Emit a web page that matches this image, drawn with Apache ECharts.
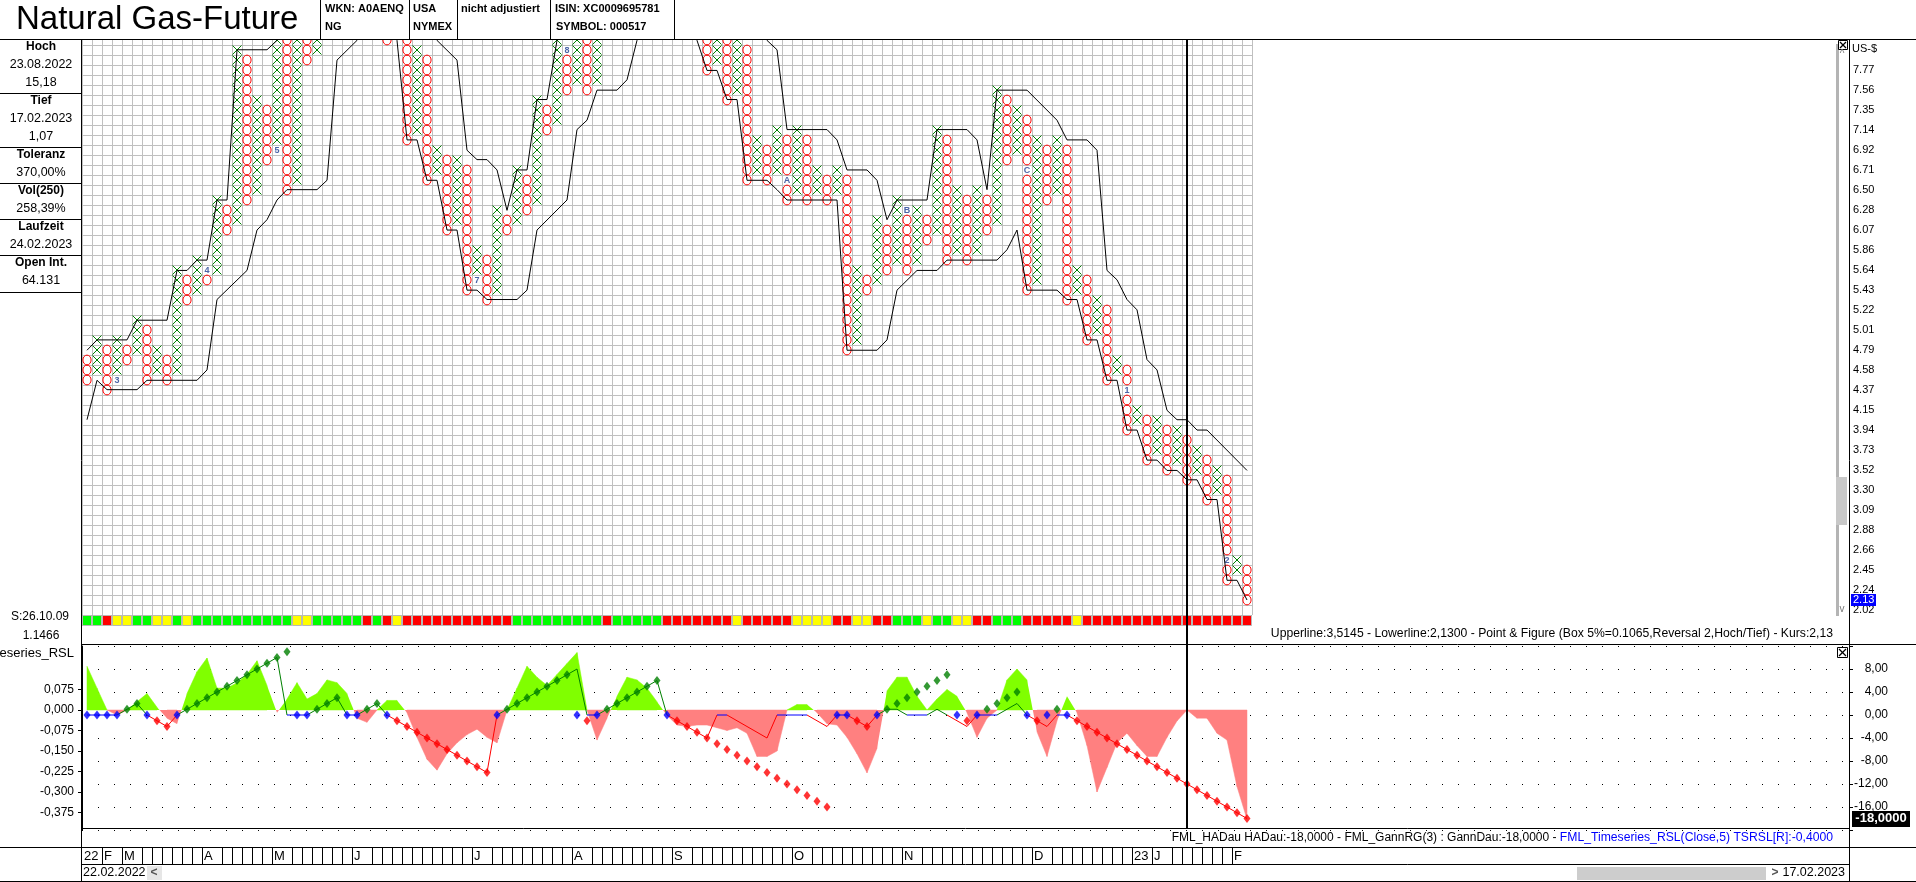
<!DOCTYPE html>
<html><head><meta charset="utf-8">
<script src="https://cdn.jsdelivr.net/npm/echarts@6/dist/echarts.min.js"></script>
<style>html,body{margin:0;padding:0;background:#fff;}#c{width:1916px;height:882px;}</style>
</head><body><div id="c"></div>
<script>
// ================= DATA =================
const BOX = 0.1065;            // box size (5%)
const LAST_PRICE = 2.13;       // Kurs
const LEVEL0 = LAST_PRICE + 53 * BOX; // price of the 7.77 row
const priceTicks = [7.77,7.56,7.35,7.14,6.92,6.71,6.50,6.28,6.07,5.86,5.64,5.43,5.22,5.01,4.79,4.58,4.37,4.15,3.94,3.73,3.52,3.30,3.09,2.88,2.66,2.45,2.24,2.02];

// Point & Figure columns (types alternate O / X, first column is O)
const colTypes = ('OX'.repeat(58) + 'O').split('');
const colHighs = [4.69,4.90,4.79,4.90,4.79,5.11,5.01,4.79,4.69,5.64,
 5.54,5.75,5.64,6.39,6.28,7.99,7.88,7.46,7.35,8.41,
 8.31,8.63,8.52,9.05,8.95,9.69,9.59,9.90,9.80,9.37,
 9.27,9.05,8.95,7.99,7.88,6.92,6.82,6.82,6.71,5.86,
 5.75,6.28,6.18,6.71,6.60,7.46,7.35,8.09,7.99,8.73,
 8.63,9.27,9.16,9.90,9.80,10.12,10.01,9.80,9.69,9.48,
 9.37,9.05,8.95,8.41,8.31,8.09,7.99,7.03,6.92,7.14,
 7.03,7.14,7.03,6.71,6.60,6.71,6.60,5.64,5.54,6.18,
 6.07,6.39,6.28,6.28,6.18,7.14,7.03,6.50,6.39,6.50,
 6.39,7.56,7.46,7.35,7.24,7.03,6.92,7.03,6.92,5.64,
 5.54,5.33,5.22,4.69,4.58,4.15,4.05,4.05,3.94,3.94,
 3.83,3.73,3.62,3.51,3.41,2.56,2.45];
const colLows = [4.47,4.58,4.37,4.47,4.69,4.79,4.47,4.58,4.47,4.58,
 5.33,5.43,5.54,5.64,6.07,6.18,6.39,6.50,6.82,6.92,
 6.50,6.60,7.88,7.99,8.20,8.31,8.63,8.73,8.41,8.52,
 8.09,8.20,7.03,7.14,6.60,6.71,6.07,6.18,5.43,5.54,
 5.33,5.43,6.07,6.18,6.28,6.39,7.14,7.24,7.56,7.67,
 7.56,7.67,8.20,8.31,8.63,8.73,8.84,8.95,8.63,8.73,
 8.20,8.31,7.77,7.88,7.46,7.56,6.60,6.71,6.60,6.71,
 6.39,6.50,6.39,6.50,6.39,6.50,4.79,4.90,5.43,5.54,
 5.64,5.75,5.64,5.75,5.96,6.07,5.75,5.86,5.75,5.86,
 6.07,6.18,6.82,6.92,5.43,5.54,6.39,6.50,5.33,5.43,
 4.90,5.01,4.47,4.58,3.94,4.05,3.62,3.73,3.51,3.62,
 3.41,3.51,3.20,3.30,2.34,2.45,2.13];
// month markers inside the P&F columns: [column, price, label]
const monthMarkers = [[3,4.47,'3'],[12,5.64,'4'],[19,6.92,'5'],[39,5.54,'7'],[48,7.99,'8'],
 [70,6.60,'A'],[82,6.28,'B'],[94,6.71,'C'],[104,4.37,'1'],[114,2.56,'2']];
// Upper / lower channel lines: [column, price]
const upperLine = [[0,4.79],[1,4.90],[4,4.90],[5,5.11],[8,5.11],[9,5.64],[10,5.64],[11,5.75],[12,5.75],[13,6.39],[14,6.39],[15,7.99],[18,7.99],[19,8.09],
 [20,8.63],[23,9.05],[25,9.69],[27,9.90],[30,9.90],[33,9.05],[35,8.09],[37,7.88],[38,6.92],[39,6.82],[40,6.82],[41,6.71],[42,6.28],[43,6.71],[44,6.71],
 [45,7.46],[46,7.46],[47,8.09],[48,8.41],[50,8.73],[51,9.27],[53,9.90],[55,10.12],[57,10.12],[60,9.48],[63,8.84],[66,8.41],[68,8.09],[69,7.99],
 [70,7.14],[74,7.14],[75,7.03],[76,6.71],[78,6.71],[79,6.60],[80,6.18],[81,6.39],[84,6.39],[85,7.14],[88,7.14],[89,7.03],[90,6.50],[91,7.56],[94,7.56],
 [97,7.24],[98,7.03],[100,7.03],[101,6.92],[102,5.64],[103,5.54],[104,5.33],[105,5.22],[106,4.69],[107,4.58],[108,4.15],[109,4.05],[110,4.05],
 [111,3.94],[112,3.94],[116,3.51]];
const lowerLine = [[0,4.05],[1,4.47],[2,4.37],[5,4.37],[6,4.47],[11,4.47],[12,4.58],[13,5.33],[16,5.64],[17,6.07],[18,6.18],[19,6.39],[20,6.50],[23,6.50],
 [24,6.60],[25,7.88],[27,8.09],[28,8.41],[29,8.63],[30,8.41],[31,8.09],[32,7.03],[33,7.03],[34,6.60],[35,6.60],[36,6.07],[37,6.07],[38,5.43],[39,5.43],
 [40,5.33],[43,5.33],[44,5.43],[45,6.07],[48,6.39],[49,7.14],[50,7.24],[51,7.56],[53,7.56],[54,7.67],[55,8.09],[56,8.41],[58,8.63],[60,8.31],[61,8.09],
 [62,7.77],[63,7.77],[64,7.46],[65,7.46],[66,6.60],[68,6.60],[69,6.50],[70,6.39],[75,6.39],[76,4.79],[79,4.79],[80,4.90],[81,5.43],[83,5.64],[85,5.64],
 [86,5.75],[91,5.75],[92,5.86],[93,6.07],[94,5.43],[97,5.43],[98,5.33],[99,5.33],[100,4.90],[101,4.90],[102,4.47],[103,4.47],[104,3.94],[105,3.94],
 [106,3.62],[107,3.62],[108,3.51],[109,3.51],[110,3.41],[111,3.41],[112,3.20],[113,3.20],[114,2.34],[115,2.34],[116,2.13]];
// signal strip under the chart, one cell per column (G green, Y yellow, R red)
const stripStates = ('GGRYYGGYYG' + 'Y' + 'GGGGGGGGGG' + 'YY' + 'GGGGG' + 'R' + 'G' + 'R' + 'Y' + 'RRRRRRRRRRR' + 'GGGGGGGGG' +
 'R' + 'GGGGG' + 'RRRRRRR' + 'Y' + 'RRRRR' + 'YYYY' + 'RR' + 'YY' + 'RR' + 'GGG' + 'Y' + 'GG' + 'YY' + 'RR' + 'GGG' + 'RRRRR' + 'Y' +
 'RRRRRRRRRRRRRRRRR').split('');
// lower panel: FML_Timeseries_RSL (left axis)
const tsrsl = [0.16,0.08,0.0,-0.018,0.0,0.03,0.06,0.01,-0.03,-0.05,
 0.06,0.14,0.19,0.08,0.08,0.10,0.13,0.18,0.09,-0.01,
 0.04,0.10,0.04,0.06,0.11,0.10,0.06,-0.03,-0.045,0.0,
 0.035,0.035,-0.01,-0.10,-0.18,-0.22,-0.16,-0.12,-0.09,-0.07,
 -0.10,-0.12,0.0,0.08,0.16,0.12,0.09,0.13,0.17,0.21,
 0.0,-0.11,-0.03,0.05,0.12,0.11,0.08,0.03,-0.02,-0.055,
 -0.06,-0.055,-0.055,-0.065,-0.075,-0.065,-0.085,-0.17,-0.17,-0.15,
 0.0,0.02,0.02,-0.01,-0.05,-0.055,-0.10,-0.16,-0.23,-0.14,
 0.07,0.12,0.12,0.05,0.0,0.04,0.075,0.05,-0.01,-0.10,
 -0.03,0.0,0.11,0.15,0.11,-0.08,-0.17,-0.04,0.05,-0.01,
 -0.13,-0.30,-0.21,-0.12,-0.085,-0.13,-0.17,-0.17,-0.10,-0.04,
 0.0,-0.03,-0.03,-0.085,-0.11,-0.28,-0.40];
// GannDau (diamonds, right axis)
const gannDau = [0,0,0,0,1,2,0,-1,-2,0,
 1,2,3,4,5,6,7,8,9,10,
 11,0,0,1,2,3,0,0,1,2,
 0,-1,-2,-3,-4,-5,-6,-7,-8,-9,
 -10,0,1,2,3,4,5,6,7,0,
 -1,0,1,2,3,4,5,6,0,-1,
 -2,-3,-4,-5,-6,-7,-8,-9,-10,-11,
 -12,-13,-14,-15,-16,0,0,-1,-2,0,
 1,2,3,4,5,6,7,0,-1,0,
 1,2,3,4,0,-1,0,1,0,-1,
 -2,-3,-4,-5,-6,-7,-8,-9,-10,-11,
 -12,-13,-14,-15,-16,-17,-18];
// HADau (thin line, right axis)
const haDau = [0,0,0,0,1,2,0,-1,-2,0,
 1,2,3,4,5,6,7,8,9,10,
 0,0,0,1,2,3,0,0,1,2,
 0,-1,-2,-3,-4,-5,-6,-7,-8,-9,
 -10,0,1,2,3,4,5,6,7,8,
 0,0,1,2,3,4,5,6,0,-1,
 -2,-3,-4,0,0,-1,-2,-3,-4,0,
 0,0,0,-1,-2,0,0,-1,-2,0,
 1,1,0,0,0,1,0,-1,-2,0,
 0,0,1,2,0,-1,-2,0,0,-1,
 -2,-3,-4,-5,-6,-7,-8,-9,-10,-11,
 -12,-13,-14,-15,-16,-17,-18];
const rslTicks = [0.075,0,-0.075,-0.15,-0.225,-0.3,-0.375];
const gannTicks = {min:-20, max:12, step:4};
// time line under the chart: [column, label]
const timelineMonths = [[0,'22'],[2,'F'],[4,'M'],[12,'A'],[19,'M'],[27,'J'],[39,'J'],[49,'A'],[59,'S'],[71,'O'],[82,'N'],[95,'D'],[105,'23'],[107,'J'],[115,'F']];
const cursorCol = 110;
const infoRows = [['Hoch',true],['23.08.2022',false],['15,18',false],['Tief',true],['17.02.2023',false],['1,07',false],
 ['Toleranz',true],['370,00%',false],['Vol(250)',true],['258,39%',false],['Laufzeit',true],['24.02.2023',false],['Open Int.',true],['64.131',false]];

// ================= CHART =================
const FF = '"Liberation Sans", Arial, Helvetica, sans-serif';
const NCOL = colHighs.length;
const GREEN_X = '#008000', RED_O = '#ff0000';
const STRIP_COL = {G:'#00ff00', Y:'#ffff00', R:'#ff0000'};

const markerMap = {};
monthMarkers.forEach(([c,p,t]) => { markerMap[c + '_' + Math.round((LEVEL0 - p) / BOX)] = t; });

function renderPF(params, api) {
  const i = params.dataIndex;
  const nTop = Math.round((LEVEL0 - colHighs[i]) / BOX);
  const nBot = Math.round((LEVEL0 - colLows[i]) / BOX);
  const top = params.coordSys.y;
  const ch = [];
  for (let n = nTop; n <= nBot; n++) {
    const pt = api.coord([i, LEVEL0 - n * BOX]);
    if (pt[1] < top - 6) continue;
    const mk = markerMap[i + '_' + n];
    if (mk) {
      ch.push({type:'text', x: pt[0], y: pt[1] + 0.5, style:{text: mk, fill:'#4a64a8', font:'bold 9px ' + FF,
        align:'center', verticalAlign:'middle', textAlign:'center', textVerticalAlign:'middle'}});
      continue;
    }
    if (colTypes[i] === 'X') {
      ch.push({type:'line', shape:{x1:pt[0]-4.5, y1:pt[1]-4.5, x2:pt[0]+4.5, y2:pt[1]+4.5}, style:{stroke:GREEN_X, lineWidth:1}});
      ch.push({type:'line', shape:{x1:pt[0]+4.5, y1:pt[1]-4.5, x2:pt[0]-4.5, y2:pt[1]+4.5}, style:{stroke:GREEN_X, lineWidth:1}});
    } else {
      ch.push({type:'ellipse', shape:{cx:pt[0], cy:pt[1], rx:4.1, ry:4.9}, style:{fill:'none', stroke:RED_O, lineWidth:1}});
    }
  }
  return {type:'group', children: ch};
}
function renderStrip(params, api) {
  const i = params.dataIndex;
  const a = api.coord([i - 0.5, 1]), b = api.coord([i + 0.5, 0]);
  return {type:'rect', shape:{x:a[0]+0.5, y:a[1]+0.5, width:b[0]-a[0]-1, height:b[1]-a[1]-1},
    style:{fill: STRIP_COL[stripStates[i]], stroke:'#b8b8b8', lineWidth:1}};
}
function renderArea(params, api) {
  const i = params.dataIndex;
  if (i === 0) return {type:'group', children:[]};
  const v0 = tsrsl[i-1], v1 = tsrsl[i];
  const p0 = api.coord([i-1, v0]), p1 = api.coord([i, v1]);
  const z = api.coord([i, 0])[1];
  const col = v => v >= 0 ? '#80ff00' : '#ff8080';
  const ch = [];
  if (v0 * v1 < 0) {
    const t = v0 / (v0 - v1);
    const xc = p0[0] + t * (p1[0] - p0[0]);
    ch.push({type:'polygon', shape:{points:[[p0[0],z],[p0[0],p0[1]],[xc,z]]}, style:{fill:col(v0)}});
    ch.push({type:'polygon', shape:{points:[[xc,z],[p1[0],p1[1]],[p1[0],z]]}, style:{fill:col(v1)}});
  } else {
    const s = (v0 !== 0) ? v0 : v1;
    ch.push({type:'polygon', shape:{points:[[p0[0],z],[p0[0],p0[1]],[p1[0],p1[1]],[p1[0],z]]}, style:{fill:col(s), stroke:col(s), lineWidth:0.5}});
  }
  return {type:'group', children: ch};
}
function renderHA(params, api) {
  const i = params.dataIndex;
  if (i === 0) return {type:'group', children:[]};
  const v0 = haDau[i-1], v1 = haDau[i];
  const p0 = api.coord([i-1, v0]), p1 = api.coord([i, v1]);
  const s = v0 !== 0 ? v0 : v1;
  const c = s > 0 ? '#008000' : (s < 0 ? '#ff0000' : '#0000ff');
  return {type:'line', shape:{x1:p0[0], y1:p0[1], x2:p1[0], y2:p1[1]}, style:{stroke:c, lineWidth:1}};
}
const tlAt = {};
timelineMonths.forEach(([c,t]) => { tlAt[c] = t; });
function renderTimeline(params, api) {
  const i = params.dataIndex;
  const a = api.coord([i - 0.5, 1]), b = api.coord([i - 0.5, 0]);
  const ch = [];
  const x = Math.round(a[0]) + 0.5;
  if (tlAt[i-1] === undefined && i > 0) ch.push({type:'line', shape:{x1:x, y1:a[1], x2:x, y2:b[1]}, style:{stroke:'#000', lineWidth:1}});
  if (tlAt[i] !== undefined) ch.push({type:'text', x: a[0] + 2, y: (a[1] + b[1]) / 2 + 1, style:{text: tlAt[i], fill:'#000', font:'13px ' + FF,
    align:'left', verticalAlign:'middle', textAlign:'left', textVerticalAlign:'middle'}});
  return {type:'group', children: ch};
}

const GRID_TOP = 35, ROWS = 58; // 3.5 rows above the 7.77 level, 54.5 below
const yMax = LEVEL0 + 3.5 * BOX, yMin = LEVEL0 - 54.5 * BOX;
const LP_TOP = 646, LP_H = 184;
const RSL_ZERO_Y = 710, RSL_PX = 20.5 / 0.075;
const rslMax = (RSL_ZERO_Y - LP_TOP) / RSL_PX, rslMin = -(LP_TOP + LP_H - RSL_ZERO_Y) / RSL_PX;

const hide = {axisLine:{show:false}, axisTick:{show:false}, axisLabel:{show:false}, splitLine:{show:false}};
const option = {
  animation: false,
  backgroundColor: '#fff',
  textStyle: {fontFamily: FF},
  grid: [
    {left:82, top:GRID_TOP, width:1170, height:ROWS*10},
    {left:82, top:615, width:1170, height:11},
    {left:82, top:LP_TOP, right:67, height:LP_H},
    {left:82, top:847, width:1170, height:17}
  ],
  xAxis: [
    Object.assign({type:'value', gridIndex:0, min:-0.5, max:NCOL-0.5}, hide),
    {type:'value', gridIndex:0, min:0, max:NCOL, interval:1, axisLine:{show:false}, axisTick:{show:false}, axisLabel:{show:false},
      splitLine:{show:true, lineStyle:{color:'#c0c0c0', width:1}}},
    Object.assign({type:'value', gridIndex:1, min:-0.5, max:NCOL-0.5}, hide),
    Object.assign({type:'value', gridIndex:2, min:-0.5, max:-0.5 + 1767/10}, hide),
    Object.assign({type:'value', gridIndex:3, min:-0.5, max:NCOL-0.5}, hide)
  ],
  yAxis: [
    {type:'value', gridIndex:0, min:yMin, max:yMax, position:'right', offset:597,
      axisLine:{show:false}, axisTick:{show:false}, splitLine:{show:false},
      axisLabel:{show:true, customValues: priceTicks, formatter: v => v.toFixed(2), color:'#000', fontSize:11, fontFamily:FF, margin:4}},
    {type:'value', gridIndex:0, min:0, max:ROWS, interval:1, axisLine:{show:false}, axisTick:{show:false}, axisLabel:{show:false},
      splitLine:{show:true, lineStyle:{color:'#c0c0c0', width:1}}},
    Object.assign({type:'value', gridIndex:1, min:0, max:1}, hide),
    {type:'value', gridIndex:2, min:rslMin, max:rslMax, position:'left',
      axisLine:{show:true, onZero:false, lineStyle:{color:'#000'}},
      axisTick:{show:true, customValues: rslTicks, length:4, lineStyle:{color:'#000'}},
      axisLabel:{show:true, customValues: rslTicks, formatter: v => v.toFixed(3).replace('.', ','), color:'#000', fontSize:12, fontFamily:FF, margin:8},
      splitLine:{show:false}},
    {type:'value', gridIndex:2, min:gannTicks.min, max:gannTicks.max, interval:gannTicks.step, position:'right',
      axisLine:{show:true, onZero:false, lineStyle:{color:'#000'}},
      axisTick:{show:true, length:4, lineStyle:{color:'#000'}},
      axisLabel:{show:true, align:'right', margin:39, color:'#000', fontSize:12, fontFamily:FF,
        formatter: v => (v === gannTicks.max || v === gannTicks.min) ? '' : v.toFixed(2).replace('.', ',')},
      splitLine:{show:true, lineStyle:{color:'#000', width:1, type:[1,15]}}},
    Object.assign({type:'value', gridIndex:3, min:0, max:1}, hide)
  ],
  series: [
    {type:'custom', name:'P&F', xAxisIndex:0, yAxisIndex:0, clip:true, z:3, renderItem: renderPF,
      encode:{x:0, y:[1,2]}, data: colHighs.map((h,i) => [i, h, colLows[i]])},
    {type:'line', name:'Upperline', xAxisIndex:0, yAxisIndex:0, data: upperLine, symbol:'none', z:4,
      lineStyle:{color:'#000', width:1}, silent:true},
    {type:'line', name:'Lowerline', xAxisIndex:0, yAxisIndex:0, data: lowerLine, symbol:'none', z:4,
      lineStyle:{color:'#000', width:1}, silent:true},
    {type:'custom', name:'Signal', xAxisIndex:2, yAxisIndex:2, renderItem: renderStrip,
      encode:{x:0}, data: stripStates.map((s,i) => [i, s === 'G' ? 1 : s === 'Y' ? 0 : -1])},
    {type:'custom', name:'TSRSL', xAxisIndex:3, yAxisIndex:3, z:1, clip:true, renderItem: renderArea,
      encode:{x:0, y:1}, data: tsrsl.map((v,i) => [i, v])},
    {type:'custom', name:'HADau', xAxisIndex:3, yAxisIndex:4, z:3, renderItem: renderHA,
      encode:{x:0, y:1}, data: haDau.map((v,i) => [i, v])},
    {type:'scatter', name:'GannDau', xAxisIndex:3, yAxisIndex:4, z:4, symbol:'diamond', symbolSize:[7,9],
      data: gannDau.map((v,i) => [i, v]),
      itemStyle:{color: p => p.value[1] > 0 ? '#008000' : (p.value[1] < 0 ? '#ff0000' : '#0000ff')}},
    {type:'custom', name:'Zeit', xAxisIndex:4, yAxisIndex:5, renderItem: renderTimeline,
      encode:{x:0}, data: colHighs.map((h,i) => [i, 0])}
  ]
};

const chart = echarts.init(document.getElementById('c'), null, {renderer:'canvas', width:1916, height:882});
chart.setOption(option);

// ---------- frame, header, texts ----------
function T(id, text, x, y, o) {
  o = o || {};
  const align = o.align || 'left';
  return {type:'text', id, x, y, z:110, style:{text, fill:o.fill || '#000', font:o.font || ('12px ' + FF),
    align, verticalAlign:'middle', textAlign:align, textVerticalAlign:'middle'}};
}
function L(id, x1, y1, x2, y2, w, c, z) {
  return {type:'line', id, z: z || 105, shape:{x1, y1, x2, y2}, style:{stroke:c || '#000', lineWidth:w || 1}};
}
const els = [];
els.push({type:'rect', id:'hdrBg', z:100, shape:{x:0, y:0, width:1916, height:39}, style:{fill:'#fff'}});
els.push(L('hdrLine', 0, 39.5, 1916, 39.5));
[320, 409, 457, 550, 674].forEach((x,k) => els.push(L('hv'+k, x+0.5, 0, x+0.5, 39)));
els.push(T('title', 'Natural Gas-Future', 16, 20, {font:'33px ' + FF}));
const HB = 'bold 11px ' + FF;
els.push(T('h1', 'WKN: A0AENQ', 325, 9, {font:HB}));
els.push(T('h2', 'NG', 325, 27, {font:HB}));
els.push(T('h3', 'USA', 413, 9, {font:HB}));
els.push(T('h4', 'NYMEX', 413, 27, {font:HB}));
els.push(T('h5', 'nicht adjustiert', 461, 9, {font:HB}));
els.push(T('h6', 'ISIN: XC0009695781', 555, 9, {font:HB}));
els.push(T('h7', 'SYMBOL: 000517', 556, 27, {font:HB}));
// left info panel
els.push(L('leftV', 81.5, 39, 81.5, 882));
infoRows.forEach((r,k) => els.push(T('info'+k, r[0], 41, 47 + 18*k, {align:'center', font:(r[1] ? 'bold 12px ' : '12.5px ') + FF})));
[93, 147, 183, 219, 255, 292].forEach((y,k) => els.push(L('infoL'+k, 0, y+0.5, 81, y+0.5)));
els.push(T('sDate', 'S:26.10.09', 40, 617, {align:'center'}));
els.push(T('sVal', '1.1466', 41, 636, {align:'center'}));
els.push(T('rslName', 'Timeseries_RSL', 74, 653, {align:'right', font:'13px ' + FF}));
// right side
els.push(L('rightV', 1849.5, 39, 1849.5, 882));
els.push(T('cur', 'US-$', 1852, 49, {font:'11px ' + FF}));
els.push({type:'rect', id:'sbTrack', z:104, shape:{x:1836, y:44, width:3, height:572}, style:{fill:'#b4b4b4'}});
els.push({type:'rect', id:'sbThumb', z:104, shape:{x:1836, y:477, width:11, height:48}, style:{fill:'#c8c8c8'}});
els.push(T('sbUp', '^', 1842, 54, {align:'center', font:'10px ' + FF, fill:'#777'}));
els.push(T('sbDn', 'v', 1842, 609, {align:'center', font:'10px ' + FF, fill:'#777'}));
function xBox(id, x, y, s) {
  return [{type:'rect', id:id+'r', z:106, shape:{x:x+0.5, y:y+0.5, width:s, height:s}, style:{fill:'#fff', stroke:'#000', lineWidth:1}},
    L(id+'a', x+2, y+2, x+s-1, y+s-1, 1.3, '#000', 107), L(id+'b', x+s-1, y+2, x+2, y+s-1, 1.3, '#000', 107)];
}
xBox('xb1', 1838, 40, 9).forEach(e => els.push(e));
xBox('xb2', 1837, 647, 10).forEach(e => els.push(e));
els.push(T('pfInfo', 'Upperline:3,5145 - Lowerline:2,1300 - Point & Figure (Box 5%=0.1065,Reversal 2,Hoch/Tief) - Kurs:2,13', 1833, 634, {align:'right', font:'12.2px ' + FF}));
els.push(L('lpTop', 82, 644.5, 1916, 644.5));
els.push(L('lpBot', 82, 828.5, 1849, 828.5));
els.push({type:'text', id:'lpInfoB', x:1833, y:838, z:110, style:{
  text:'FML_Timeseries_RSL(Close,5) TSRSL[R]:-0,4000', fill:'#0000ff', font:'12.2px ' + FF,
  align:'right', verticalAlign:'middle', textAlign:'right', textVerticalAlign:'middle'}});
els.push({type:'text', id:'lpInfoA', x:1833 - 256, y:838, z:110, style:{
  text:'FML_HADau HADau:-18,0000 - FML_GannRG(3) : GannDau:-18,0000 - ', fill:'#000', font:'12.2px ' + FF,
  align:'right', verticalAlign:'middle', textAlign:'right', textVerticalAlign:'middle'}});
els.push(L('tlTop', 0, 847.5, 1916, 847.5));
els.push(L('tlBot', 82, 864.5, 1849, 864.5));
els.push(L('bottom', 0, 881.5, 1916, 881.5));
els.push(T('dStart', '22.02.2022', 83, 873, {font:'12.5px ' + FF}));
els.push({type:'rect', id:'lArrBg', z:104, shape:{x:147, y:866, width:15, height:14}, style:{fill:'#e6e6e6'}});
els.push(T('lArr', '<', 154, 873, {align:'center', font:'bold 12px ' + FF, fill:'#555'}));
els.push({type:'rect', id:'hsThumb', z:104, shape:{x:1577, y:867, width:189, height:13}, style:{fill:'#cdcdcd'}});
els.push(T('rArr', '>', 1775, 873, {align:'center', font:'bold 12px ' + FF, fill:'#555'}));
els.push(T('dEnd', '17.02.2023', 1845, 873, {align:'right', font:'12.5px ' + FF}));

// dynamic markers computed from the chart's own scales
const cx = Math.round(chart.convertToPixel({xAxisIndex:0}, cursorCol));
els.push({type:'rect', id:'cursor', z:108, shape:{x:cx-1, y:39, width:2, height:790}, style:{fill:'#000'}});
const py = chart.convertToPixel({yAxisIndex:0}, LAST_PRICE);
els.push({type:'rect', id:'priceTag', z:109, shape:{x:1851, y:Math.round(py)-6, width:25, height:12}, style:{fill:'#0000ff'}});
els.push(T('priceTxt', LAST_PRICE.toFixed(2), 1853, py, {fill:'#fff', font:'11px ' + FF}));
const gy = chart.convertToPixel({yAxisIndex:4}, gannDau[gannDau.length-1]);
els.push({type:'rect', id:'gTag', z:109, shape:{x:1852, y:Math.round(gy)-8, width:58, height:16}, style:{fill:'#000'}});
els.push(T('gTxt', gannDau[gannDau.length-1].toFixed(4).replace('.', ','), 1881, gy, {align:'center', fill:'#fff', font:'bold 13px ' + FF}));

chart.setOption({graphic:{elements: els}});
// place the black part of the lower legend right before the blue part
const blueW = echarts.format.getTextRect ? 0 : 0;
(function(){
  const ctx = document.createElement('canvas').getContext('2d');
  ctx.font = '12.2px ' + FF;
  const w = ctx.measureText('FML_Timeseries_RSL(Close,5) TSRSL[R]:-0,4000').width;
  chart.setOption({graphic:{elements:[{id:'lpInfoA', x: 1833 - w}]}});
})();
</script>
</body></html>
